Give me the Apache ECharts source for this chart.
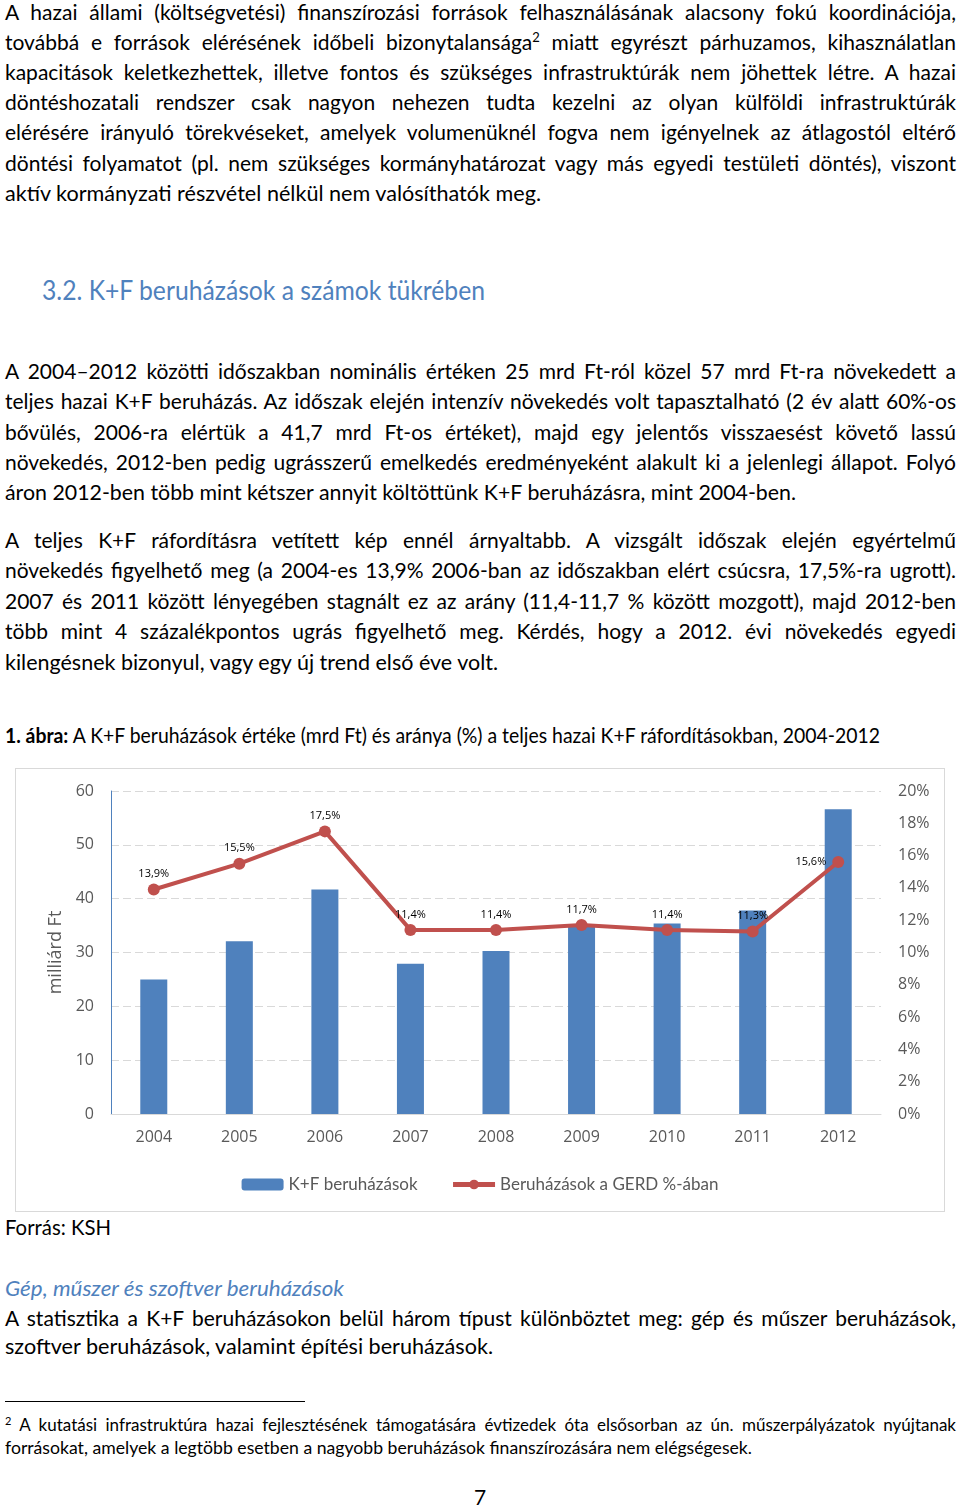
<!DOCTYPE html>
<html>
<head>
<meta charset="utf-8">
<script src="https://cdn.jsdelivr.net/npm/echarts@6/dist/echarts.min.js"></script>
<style>
  html, body { margin:0; padding:0; background:#fff; }
  body { width:960px; height:1508px; position:relative; overflow:hidden; font-family: Lato, "Open Sans", sans-serif; color:#000; }
  .ln { position:absolute; left:5px; width:951px; height:30px; line-height:30px; white-space:nowrap; font-size:21px; }
  .ln > span { display:inline-block; transform-origin:0 50%; }
  sup { font-size:13px; line-height:0; vertical-align: 8px; }
  .h { color:#4f81bd; font-size:27px; left:42px; height:36px; line-height:36px; }
  .it { color:#4f81bd; font-style:italic; }
  .fn { font-size:17px; height:22px; line-height:22px; }
  .fn sup { font-size:11px; vertical-align:6px; }
  #box { position:absolute; left:15px; top:768px; width:930px; height:444px; border:1px solid #d9d9d9; box-sizing:border-box; }
  #chart { width:928px; height:442px; }
  #rule { position:absolute; left:5px; top:1401px; width:300px; height:1px; background:#000; }
</style>
</head>
<body>
<div class="ln j" style="top:-3px"><span>A hazai állami (költségvetési) finanszírozási források felhasználásának alacsony fokú koordinációja,</span></div>
<div class="ln j" style="top:27px"><span>továbbá e források elérésének időbeli bizonytalansága<sup>2</sup> miatt egyrészt párhuzamos, kihasználatlan</span></div>
<div class="ln j" style="top:57px"><span>kapacitások keletkezhettek, illetve fontos és szükséges infrastruktúrák nem jöhettek létre. A hazai</span></div>
<div class="ln j" style="top:87px"><span>döntéshozatali rendszer csak nagyon nehezen tudta kezelni az olyan külföldi infrastruktúrák</span></div>
<div class="ln j" style="top:117px"><span>elérésére irányuló törekvéseket, amelyek volumenüknél fogva nem igényelnek az átlagostól eltérő</span></div>
<div class="ln j" style="top:148px"><span>döntési folyamatot (pl. nem szükséges kormányhatározat vagy más egyedi testületi döntés), viszont</span></div>
<div class="ln" data-w="536" style="top:178px"><span>aktív kormányzati részvétel nélkül nem valósíthatók meg.</span></div>

<div class="ln h" data-w="443" style="top:272px"><span>3.2. K+F beruházások a számok tükrében</span></div>

<div class="ln j" style="top:356px"><span>A 2004–2012 közötti időszakban nominális értéken 25 mrd Ft-ról közel 57 mrd Ft-ra növekedett a</span></div>
<div class="ln j" style="top:386px"><span>teljes hazai K+F beruházás. Az időszak elején intenzív növekedés volt tapasztalható (2 év alatt 60%-os</span></div>
<div class="ln j" style="top:417px"><span>bővülés, 2006-ra elértük a 41,7 mrd Ft-os értéket), majd egy jelentős visszaesést követő lassú</span></div>
<div class="ln j" style="top:447px"><span>növekedés, 2012-ben pedig ugrásszerű emelkedés eredményeként alakult ki a jelenlegi állapot. Folyó</span></div>
<div class="ln" data-w="791" style="top:477px"><span>áron 2012-ben több mint kétszer annyit költöttünk K+F beruházásra, mint 2004-ben.</span></div>

<div class="ln j" style="top:525px"><span>A teljes K+F ráfordításra vetített kép ennél árnyaltabb. A vizsgált időszak elején egyértelmű</span></div>
<div class="ln j" style="top:555px"><span>növekedés figyelhető meg (a 2004-es 13,9% 2006-ban az időszakban elért csúcsra, 17,5%-ra ugrott).</span></div>
<div class="ln j" style="top:586px"><span>2007 és 2011 között lényegében stagnált ez az arány (11,4-11,7 % között mozgott), majd 2012-ben</span></div>
<div class="ln j" style="top:616px"><span>több mint 4 százalékpontos ugrás figyelhető meg. Kérdés, hogy a 2012. évi növekedés egyedi</span></div>
<div class="ln" data-w="493" style="top:647px"><span>kilengésnek bizonyul, vagy egy új trend első éve volt.</span></div>

<div class="ln" data-w="875" style="top:720px"><span><b>1. ábra:</b> A K+F beruházások értéke (mrd Ft) és aránya (%) a teljes hazai K+F ráfordításokban, 2004-2012</span></div>

<div id="box"><div id="chart"></div></div>

<div class="ln" data-w="106" style="top:1212px"><span>Forrás: KSH</span></div>
<div class="ln it" data-w="339" style="top:1273px"><span>Gép, műszer és szoftver beruházások</span></div>
<div class="ln j" style="top:1303px"><span>A statisztika a K+F beruházásokon belül három típust különböztet meg: gép és műszer beruházások,</span></div>
<div class="ln" data-w="488" style="top:1331px"><span>szoftver beruházások, valamint építési beruházások.</span></div>

<div id="rule"></div>
<div class="ln fn j" style="top:1414px"><span><sup>2</sup> A kutatási infrastruktúra hazai fejlesztésének támogatására évtizedek óta elsősorban az ún. műszerpályázatok nyújtanak</span></div>
<div class="ln fn" data-w="747" style="top:1437px"><span>forrásokat, amelyek a legtöbb esetben a nagyobb beruházások finanszírozására nem elégségesek.</span></div>

<div class="ln" style="top:1482px; left:0; width:960px; text-align:center;"><span>7</span></div>

<script>
// ---- chart data ----
const years = ['2004', '2005', '2006', '2007', '2008', '2009', '2010', '2011', '2012'];
const investment = [25.0, 32.1, 41.7, 27.9, 30.3, 34.9, 35.4, 37.8, 56.6];   // milliárd Ft
const gerdShare = [13.9, 15.5, 17.5, 11.4, 11.4, 11.7, 11.4, 11.3, 15.6];    // % of GERD
const seriesNames = ['K+F beruházások', 'Beruházások a GERD %-ában'];
const leftAxisName = 'milliárd Ft';

// ---- fit text lines ----
document.querySelectorAll('.ln').forEach(function (ln) {
  const sp = ln.firstElementChild;
  if (!sp) return;
  const w = sp.getBoundingClientRect().width;
  const isJ = ln.classList.contains('j');
  if (isJ) {
    const W = 951;
    if (w > W) {
      sp.style.transform = 'scaleX(' + (W / w) + ')';
    } else {
      const n = (sp.textContent.match(/ /g) || []).length;
      if (n > 0) sp.style.wordSpacing = ((W - w) / n) + 'px';
    }
  } else if (ln.dataset.w) {
    const W = parseFloat(ln.dataset.w);
    sp.style.transform = 'scaleX(' + (W / w) + ')';
  }
});

// ---- chart ----
const fmtPct = v => v.toFixed(1).replace('.', ',') + '%';
const axisFont = { fontFamily: '"Open Sans", sans-serif', fontSize: 16, color: '#595959' };
const chart = echarts.init(document.getElementById('chart'), null, { renderer: 'canvas' });
chart.setOption({
  animation: false,
  grid: { left: 95, right: 63, top: 22, bottom: 97 },
  legend: {
    data: [
      { name: seriesNames[0] },
      { name: seriesNames[1], lineStyle: { width: 5 } }
    ],
    top: 402,
    left: 'center',
    itemWidth: 42,
    itemHeight: 12,
    itemGap: 33,
    textStyle: { fontFamily: 'Lato, sans-serif', fontSize: 17, color: '#595959' }
  },
  xAxis: {
    type: 'category',
    data: years,
    axisLine: { lineStyle: { color: '#d9d9d9', width: 1 } },
    axisTick: { show: false },
    axisLabel: Object.assign({ margin: 15 }, axisFont)
  },
  yAxis: [
    {
      type: 'value', min: 0, max: 60, interval: 10,
      name: leftAxisName, nameLocation: 'middle', nameRotate: 90, nameGap: 43,
      nameTextStyle: { fontFamily: '"Open Sans", sans-serif', fontSize: 18, color: '#595959' },
      axisLine: { show: true, lineStyle: { color: '#4f81bd', width: 1 } },
      axisTick: { show: false },
      axisLabel: Object.assign({ margin: 17 }, axisFont),
      splitLine: { lineStyle: { color: '#d9d9d9', type: [8, 4], width: 1 } }
    },
    {
      type: 'value', min: 0, max: 20, interval: 2,
      axisLine: { show: false },
      axisTick: { show: false },
      axisLabel: Object.assign({ margin: 17, formatter: '{value}%' }, axisFont),
      splitLine: { show: false }
    }
  ],
  series: [
    {
      name: seriesNames[0], type: 'bar', yAxisIndex: 0,
      data: investment, barWidth: 27,
      itemStyle: { color: '#4f81bd' }
    },
    {
      name: seriesNames[1], type: 'line', yAxisIndex: 1,
      data: gerdShare.map((v, i) => i === gerdShare.length - 1 ? { value: v, label: { position: 'left', distance: 6 } } : v),
      symbol: 'circle', symbolSize: 12,
      lineStyle: { color: '#c0504d', width: 4 },
      itemStyle: { color: '#c0504d' },
      label: {
        show: true, position: 'top', distance: 4,
        formatter: p => fmtPct(p.value),
        fontFamily: '"Open Sans", sans-serif', fontSize: 11, color: '#000000'
      },
      z: 5
    }
  ]
});
</script>
</body>
</html>
